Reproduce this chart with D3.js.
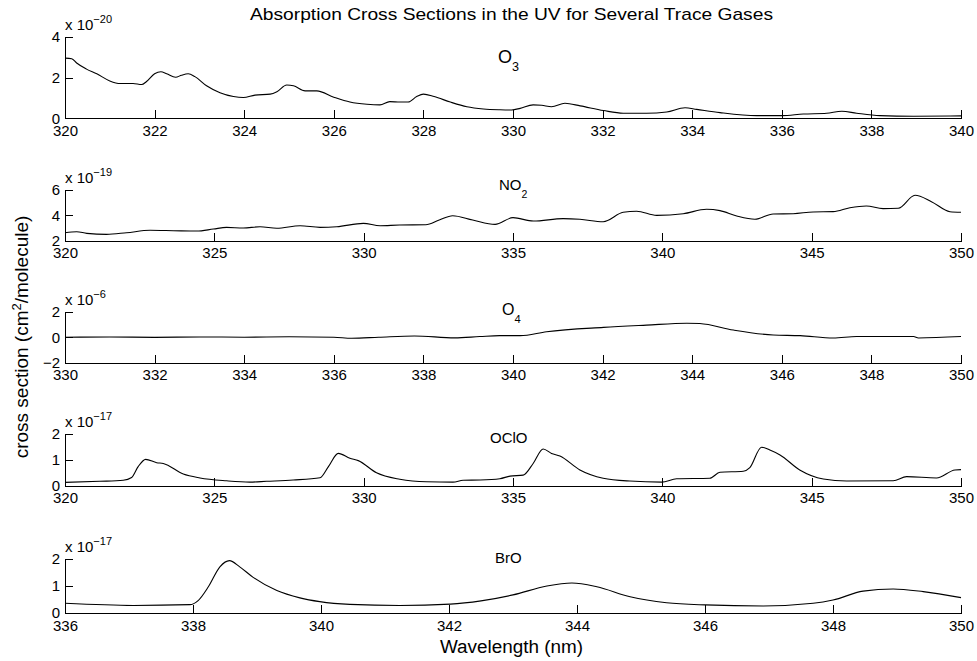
<!DOCTYPE html>
<html>
<head>
<meta charset="utf-8">
<script src="https://cdn.jsdelivr.net/npm/d3@7"></script>
<style>
  body { margin: 0; background: #fff; }
  svg { font-family: "Liberation Sans", Arial, Helvetica, sans-serif; }
  .axis path, .axis line { stroke: #000; shape-rendering: crispEdges; }
  .axis text { fill: #000; font-size: 15px; }
</style>
</head>
<body>
<svg width="977" height="661"></svg>
<script>
// cross sections, values (mantissa, exponent given per gas)
var o3Wl = [320.0,320.15,320.26,320.48,320.71,321.0,321.23,321.52,321.71,321.82,322.0,322.14,322.27,322.47,322.6,322.75,322.9,323.16,323.46,323.76,323.98,324.24,324.58,324.73,324.95,325.1,325.36,325.62,326.0,326.36,326.74,327.03,327.25,327.48,327.66,327.85,328.0,328.24,328.6,328.97,329.34,329.71,329.97,330.16,330.45,330.64,330.86,331.16,331.5,332.02,332.46,332.98,333.43,333.84,334.1,334.62,335.44,336.0,336.48,337.0,337.34,337.67,338.19,338.94,340.0];
var o3Xs = [2.96,2.93,2.72,2.42,2.19,1.84,1.71,1.71,1.66,1.81,2.19,2.29,2.19,2.02,2.12,2.19,2.05,1.6,1.26,1.07,1.02,1.14,1.19,1.31,1.64,1.6,1.35,1.35,1.04,0.8,0.69,0.66,0.82,0.8,0.8,1.07,1.19,1.07,0.8,0.57,0.46,0.42,0.41,0.49,0.66,0.64,0.57,0.74,0.61,0.38,0.25,0.25,0.31,0.52,0.44,0.28,0.13,0.13,0.21,0.25,0.35,0.25,0.13,0.10,0.12];

var no2Wl = [320,320.39,320.73,321.39,322.06,322.85,323.63,324.41,324.97,325.41,325.97,326.53,327.09,327.87,328.54,329.1,329.99,330.55,331.2,332.08,332.53,332.98,333.65,334.4,335.0,335.68,336.68,337.24,338.02,338.69,339.14,339.81,340.7,341.48,341.93,342.49,343.1,343.71,344.38,345.05,345.72,346.28,346.83,347.39,347.9,348.46,349.01,349.63,350];
var no2Xs = [2.63,2.71,2.58,2.50,2.63,2.82,2.79,2.76,2.92,3.05,3.00,3.10,2.98,3.18,3.05,3.10,3.37,3.18,3.24,3.26,3.63,3.97,3.63,3.29,3.82,3.55,3.74,3.69,3.50,4.24,4.32,4.00,4.13,4.48,4.37,3.95,3.69,4.11,4.13,4.27,4.29,4.60,4.74,4.53,4.56,5.58,5.08,4.29,4.24];

var o4Wl = [330,331,332,333,334,335,336,336.4,337,337.8,338.7,339.26,339.7,340.16,340.75,342.02,342.98,343.88,344.17,344.92,345.81,346.41,347.15,347.67,348.94,349.05,350];
var o4Xs = [0,0.02,-0.01,0.02,0,0.03,0,-0.08,0,0.1,-0.05,0.05,0.12,0.12,0.43,0.77,0.95,1.10,1.07,0.56,0.17,0.12,-0.06,0.05,0.05,-0.06,0.05];

var ocloWl = [320,321.17,321.95,322.23,322.45,322.7,323.07,323.29,323.96,324.52,325.41,326.19,326.75,327.64,328.54,328.82,329.15,329.54,329.82,330.43,331.21,332.1,332.99,333.33,333.9,334.56,334.9,335.34,335.68,336.01,336.29,336.57,337.24,338.02,338.91,339.98,340.48,341.59,341.93,342.71,342.93,343.32,343.6,343.94,344.6,345.39,346.17,347.73,348.18,349.18,349.8,350];
var ocloXs = [0.13,0.17,0.21,0.32,0.74,1.02,0.89,0.86,0.45,0.30,0.19,0.14,0.17,0.22,0.31,0.74,1.25,1.06,0.97,0.50,0.25,0.15,0.14,0.21,0.22,0.27,0.37,0.41,0.87,1.42,1.25,1.15,0.61,0.29,0.18,0.14,0.27,0.29,0.52,0.56,0.70,1.49,1.38,1.19,0.61,0.26,0.18,0.19,0.35,0.30,0.61,0.62];

var broWl = [336,337.07,337.95,338.08,338.24,338.42,338.57,338.73,338.94,339.31,339.67,339.98,340.45,341.23,342.02,342.5,343.0,343.53,343.92,344.31,344.83,345.4,346.0,346.91,347.69,348.0,348.47,348.94,349.41,350];
var broXs = [0.36,0.28,0.31,0.46,0.97,1.71,1.94,1.71,1.32,0.83,0.56,0.42,0.32,0.28,0.33,0.45,0.67,1.00,1.11,0.97,0.60,0.38,0.30,0.26,0.36,0.48,0.81,0.89,0.79,0.57];

var gasNames = ["O", "NO", "O", "OClO", "BrO"];
var gasSubs = ["3", "2", "4", "", ""];
var exponents = ["\u221220", "\u221219", "\u22126", "\u221217", "\u221217"];
var xDomains = [[320, 340], [320, 350], [330, 350], [320, 350], [336, 350]];
var xSteps = [2, 5, 2, 5, 2];
var yDomains = [[0, 4], [2, 6], [-2, 2], [0, 2], [0, 2]];
var yTickVals = [[0, 2, 4], [2, 4, 6], [-2, 0, 2], [0, 1, 2], [0, 1, 2]];

// layout of the five stacked axes
var left = 65, right = 961;
var tops = [37, 190, 311.7, 434, 559];
var bottoms = [118.3, 240.7, 362.7, 485.7, 613];
var labelPos = [[498, 63, 18], [499, 190, 15], [502, 315, 16], [490, 443, 15], [495, 563, 15]];

var svg = d3.select("svg");

var series = [
  [o3Wl, o3Xs], [no2Wl, no2Xs], [o4Wl, o4Xs], [ocloWl, ocloXs], [broWl, broXs]
];

series.forEach(function(s, i) {
  var x = d3.scaleLinear().domain(xDomains[i]).range([left, right]);
  var y = d3.scaleLinear().domain(yDomains[i]).range([bottoms[i], tops[i]]);

  var xt = d3.range(xDomains[i][0], xDomains[i][1] + 0.001, xSteps[i]);

  svg.append("g")
    .attr("class", "axis")
    .attr("transform", "translate(0," + bottoms[i] + ")")
    .call(d3.axisBottom(x).tickValues(xt).tickFormat(d3.format("d"))
      .tickSizeInner(-8).tickSizeOuter(0).tickPadding(7));

  svg.append("g")
    .attr("class", "axis")
    .attr("transform", "translate(" + left + ",0)")
    .call(d3.axisLeft(y).tickValues(yTickVals[i]).tickFormat(d3.format("d"))
      .tickSizeInner(-8).tickSizeOuter(0).tickPadding(5));

  var pts = s[0].map(function(w, k) { return [w, s[1][k]]; });
  var line = d3.line()
    .x(function(d) { return x(d[0]); })
    .y(function(d) { return y(d[1]); })
    .curve(d3.curveMonotoneX);

  svg.append("path")
    .datum(pts)
    .attr("d", line)
    .attr("fill", "none")
    .attr("stroke", "#000")
    .attr("stroke-width", 1.1);

  // exponent label
  var ex = svg.append("text")
    .attr("x", left)
    .attr("y", tops[i] - 7)
    .attr("font-size", 15)
    .text("x 10");
  ex.append("tspan")
    .attr("dy", -7)
    .attr("font-size", 11)
    .text(exponents[i]);

  // gas label
  var lp = labelPos[i];
  var gl = svg.append("text")
    .attr("x", lp[0])
    .attr("y", lp[1])
    .attr("font-size", lp[2])
    .text(gasNames[i]);
  if (gasSubs[i]) {
    gl.append("tspan")
      .attr("dy", 8)
      .attr("font-size", lp[2] * 0.7)
      .text(gasSubs[i]);
  }
});

svg.append("text")
  .attr("x", 511.5)
  .attr("y", 20)
  .attr("text-anchor", "middle")
  .attr("font-size", 17)
  .attr("textLength", 523)
  .attr("lengthAdjust", "spacingAndGlyphs")
  .text("Absorption Cross Sections in the UV for Several Trace Gases");

svg.append("text")
  .attr("x", 511.5)
  .attr("y", 653)
  .attr("text-anchor", "middle")
  .attr("font-size", 18)
  .attr("textLength", 143)
  .attr("lengthAdjust", "spacingAndGlyphs")
  .text("Wavelength (nm)");

var yl = svg.append("text")
  .attr("transform", "translate(28,337) rotate(-90)")
  .attr("text-anchor", "middle")
  .attr("font-size", 19);
yl.append("tspan").text("cross section (cm");
yl.append("tspan").attr("dy", -7).attr("font-size", 13).text("2");
yl.append("tspan").attr("dy", 7).text("/molecule)");
</script>
</body>
</html>
